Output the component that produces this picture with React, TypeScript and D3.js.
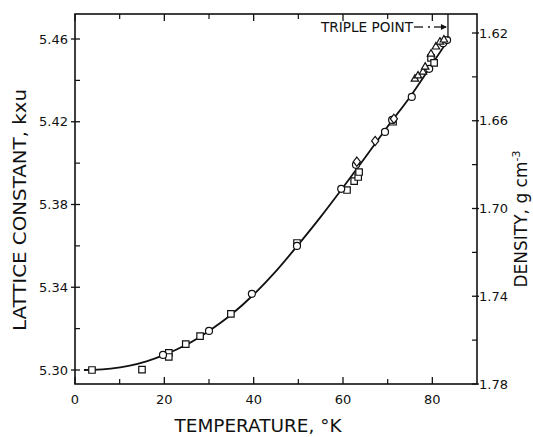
import React from "react";
import * as d3 from "d3";

const W = 533;
const H = 437;

// Axis ticks
const xMajor = [0, 20, 40, 60, 80];
const xMinor = [10, 30, 50, 70];
const yMajor = [5.30, 5.34, 5.38, 5.42, 5.46];
const yMinor = [5.32, 5.36, 5.40, 5.44];
const dMajor = [1.62, 1.66, 1.70, 1.74, 1.78];
const dMinor = [1.64, 1.68, 1.72, 1.76];

// Smooth curve through the data
const curveT = [2, 4, 8, 12, 16, 20, 25, 30, 35, 40, 45, 50, 55, 60, 65, 70, 75, 80, 83.6];
const curveA = [5.3000, 5.3001, 5.3007, 5.3020, 5.3042, 5.3073, 5.3123, 5.3189, 5.3268, 5.3365, 5.3478, 5.3606, 5.3740, 5.3882, 5.4028, 5.4177, 5.4320, 5.4480, 5.4597];

// Measured points
const squareT = [3.8, 15.0, 21.0, 21.0, 24.8, 28.0, 34.9, 49.7, 60.9, 62.5, 63.4, 63.6, 71.2, 79.7, 80.4];
const squareA = [5.3000, 5.3002, 5.3083, 5.3063, 5.3125, 5.3164, 5.3271, 5.3614, 5.3870, 5.3913, 5.3933, 5.3957, 5.4200, 5.4509, 5.4485];
const circleT = [19.7, 30.0, 39.6, 49.7, 59.6, 62.9, 69.4, 71.0, 75.4, 79.3, 82.4, 83.3];
const circleA = [5.3073, 5.3189, 5.3368, 5.3600, 5.3876, 5.3992, 5.4151, 5.4209, 5.4320, 5.4456, 5.4580, 5.4595];
const diamondT = [63.1, 67.2, 71.4];
const diamondA = [5.4007, 5.4107, 5.4214];
const triangleT = [76.1, 76.8, 77.9, 78.4, 79.7, 80.8, 81.7, 82.6];
const triangleA = [5.4407, 5.4422, 5.4441, 5.4465, 5.4528, 5.4562, 5.4586, 5.4596];

const tripleT = 83.5;

const left = 75, right = 477, top = 14, bottom = 384;
const FONT = "'DejaVu Sans', 'Liberation Sans', sans-serif";

export default function App() {
  const x = d3.scaleLinear().domain([0, 90]).range([left, right]);
  const y = d3.scaleLinear().domain([5.30, 5.46]).range([370, 39]);
  const yd = d3.scaleLinear().domain([1.62, 1.78]).range([33, 384]);

  const line = d3
    .line<number>()
    .x((_, i) => x(curveT[i]))
    .y((d) => y(d))
    .curve(d3.curveMonotoneX);

  const sym = (type: d3.SymbolType, size: number) => d3.symbol().type(type).size(size)() as string;
  const sq = sym(d3.symbolSquare, 42);
  const tri = sym(d3.symbolTriangle, 24);
  const dia = "M0,-4.6L3.6,0L0,4.6L-3.6,0Z";

  const markStyle = { fill: "white", stroke: "#111", strokeWidth: 1.2 };

  return (
    <svg width={W} height={H} style={{ display: "block", position: "absolute", left: 0, top: 0, background: "white" }}>
      <rect x={0} y={0} width={W} height={H} fill="white" />
      {/* frame */}
      <rect x={left} y={top} width={right - left} height={bottom - top} fill="none" stroke="#111" strokeWidth={1.6} />

      {/* bottom & top ticks */}
      {xMajor.map((t) => (
        <g key={"xM" + t}>
          <line x1={x(t)} x2={x(t)} y1={bottom} y2={bottom - 7} stroke="#111" strokeWidth={1.3} />
          <line x1={x(t)} x2={x(t)} y1={top} y2={top + 7} stroke="#111" strokeWidth={1.3} />
          <text x={x(t)} y={404} textAnchor="middle" fontFamily={FONT} fontSize={13} fill="#111">{t}</text>
        </g>
      ))}
      {xMinor.map((t) => (
        <g key={"xm" + t}>
          <line x1={x(t)} x2={x(t)} y1={bottom} y2={bottom - 5} stroke="#111" strokeWidth={1.2} />
          <line x1={x(t)} x2={x(t)} y1={top} y2={top + 5} stroke="#111" strokeWidth={1.2} />
        </g>
      ))}

      {/* left ticks */}
      {yMajor.map((v) => (
        <g key={"yM" + v}>
          <line x1={left - 4} x2={left + 5} y1={y(v)} y2={y(v)} stroke="#111" strokeWidth={1.3} />
          <text x={68} y={y(v) + 4.5} textAnchor="end" fontFamily={FONT} fontSize={13} fill="#111">{v.toFixed(2)}</text>
        </g>
      ))}
      {yMinor.map((v) => (
        <line key={"ym" + v} x1={left} x2={left + 5} y1={y(v)} y2={y(v)} stroke="#111" strokeWidth={1.2} />
      ))}

      {/* right ticks (density) */}
      {dMajor.map((v) => (
        <g key={"dM" + v}>
          <line x1={right - 5} x2={right + 2} y1={yd(v)} y2={yd(v)} stroke="#111" strokeWidth={1.3} />
          <text x={479} y={yd(v) + 4.5} textAnchor="start" fontFamily={FONT} fontSize={13} fill="#111">{v.toFixed(2)}</text>
        </g>
      ))}
      {dMinor.map((v) => (
        <line key={"dm" + v} x1={right - 5} x2={right} y1={yd(v)} y2={yd(v)} stroke="#111" strokeWidth={1.2} />
      ))}

      {/* curve */}
      <path d={line(curveA) as string} fill="none" stroke="#111" strokeWidth={1.8} />

      {/* markers */}
      {squareT.map((t, i) => (
        <path key={"s" + i} d={sq} transform={`translate(${x(t)},${y(squareA[i])})`} {...markStyle} />
      ))}
      {circleT.map((t, i) => (
        <circle key={"c" + i} cx={x(t)} cy={y(circleA[i])} r={3.5} {...markStyle} />
      ))}
      {diamondT.map((t, i) => (
        <path key={"d" + i} d={dia} transform={`translate(${x(t)},${y(diamondA[i])})`} {...markStyle} />
      ))}
      {triangleT.map((t, i) => (
        <path key={"t" + i} d={tri} transform={`translate(${x(t)},${y(triangleA[i])})`} {...markStyle} />
      ))}

      {/* triple point annotation */}
      <line x1={x(tripleT)} x2={x(tripleT)} y1={top} y2={38} stroke="#111" strokeWidth={1.3} />
      <text x={321} y={32} fontFamily={FONT} fontSize={14} fill="#111" textLength={92} lengthAdjust="spacingAndGlyphs">TRIPLE POINT</text>
      <line x1={414} x2={423} y1={27} y2={27} stroke="#111" strokeWidth={1.3} />
      <line x1={428} x2={430} y1={27} y2={27} stroke="#111" strokeWidth={1.3} />
      <line x1={434} x2={x(tripleT) - 2} y1={27} y2={27} stroke="#111" strokeWidth={1.3} />
      <path d={`M${x(tripleT) - 1},27 L${x(tripleT) - 7},24 L${x(tripleT) - 7},30 Z`} fill="#111" />

      {/* axis titles */}
      <text x={258} y={432} textAnchor="middle" fontFamily={FONT} fontSize={17} fill="#111" textLength={167} lengthAdjust="spacingAndGlyphs">TEMPERATURE, °K</text>
      <text transform="translate(26,210) rotate(-90)" textAnchor="middle" fontFamily={FONT} fontSize={17} fill="#111" textLength={242} lengthAdjust="spacingAndGlyphs">LATTICE CONSTANT, kxu</text>
      <text transform="translate(527,219) rotate(-90)" textAnchor="middle" fontFamily={FONT} fontSize={17} fill="#111">
        DENSITY, g cm<tspan fontSize={11} dy={-7}>-3</tspan>
      </text>
    </svg>
  );
}
